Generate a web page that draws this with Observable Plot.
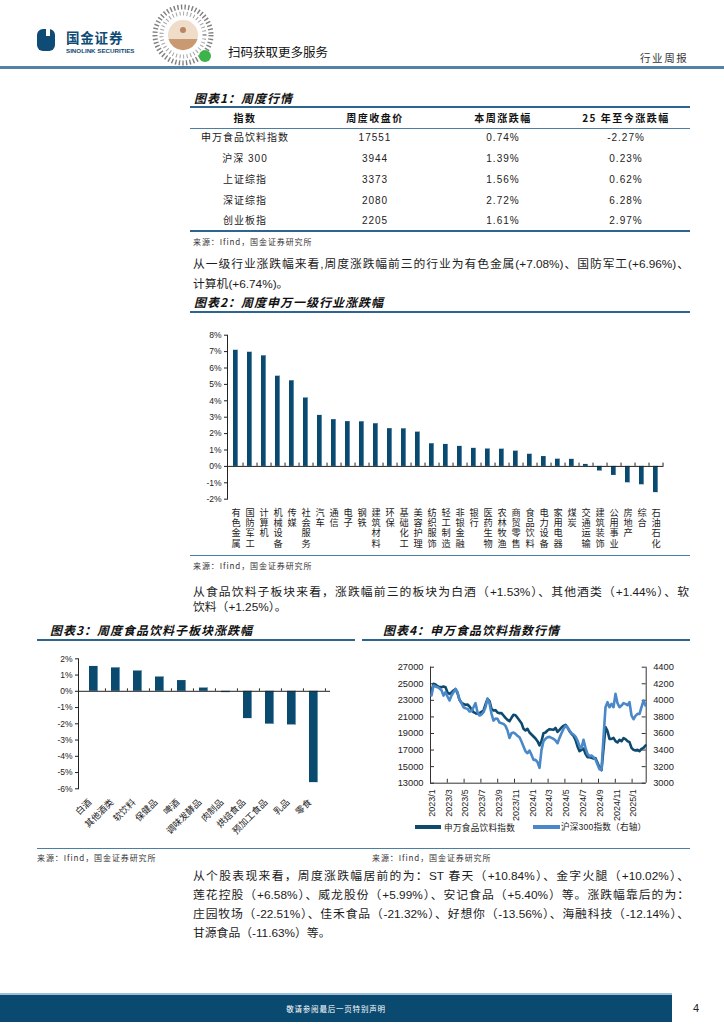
<!DOCTYPE html>
<html lang="zh-CN">
<head>
<meta charset="utf-8">
<title>行业周报</title>
<script src="https://cdn.jsdelivr.net/npm/d3@7"></script>
<script src="https://cdn.jsdelivr.net/npm/@observablehq/plot@0.6"></script>
<style>
  html, body { margin:0; padding:0; background:#fff; }
  #page { position:relative; width:724px; height:1024px; overflow:hidden; background:#fff;
    font-family:"Liberation Sans","Noto Sans CJK SC",sans-serif; color:#1b1b1b; }
  .a { position:absolute; }
  .t { white-space:nowrap; }
  .title { font-family:"Noto Sans CJK SC",sans-serif; font-weight:700; font-style:italic; font-size:12px; letter-spacing:1px; color:#111; line-height:16px; height:16px; white-space:nowrap; }
  .rule2 { position:absolute; height:2px; background:#2c6690; }
  .rule1 { position:absolute; height:1px; background:#4a7ea5; }
  .src { font-family:"Noto Sans CJK SC",sans-serif; font-size:8px; letter-spacing:0.9px; color:#333; line-height:12px; height:12px; white-space:nowrap; }
  .p { font-family:"Liberation Sans","Noto Sans CJK SC",sans-serif; font-size:11.8px; line-height:16px; height:16px; color:#1b1b1b; text-align:justify; text-align-last:justify; width:496px; }
  .p.last { text-align-last:left; }
  .th { font-family:"Noto Sans CJK SC",sans-serif; font-weight:700; font-size:10px; letter-spacing:1.5px; text-align:center; width:140px; line-height:14px; height:14px; white-space:nowrap; color:#111; }
  .td { font-family:"Liberation Sans","Noto Sans CJK SC",sans-serif; font-size:10px; letter-spacing:1px; text-align:center; width:140px; line-height:14px; height:14px; white-space:nowrap; color:#222; }
</style>
</head>
<body>
<div id="page"></div>
<script>
// ---------------- DATA ----------------
// 图表1: 周度行情
const tableHeaders = ["指数", "周度收盘价", "本周涨跌幅", "25 年至今涨跌幅"];
const tableIndex = ["申万食品饮料指数", "沪深 300", "上证综指", "深证综指", "创业板指"];
const tableClose = ["17551", "3944", "3373", "2080", "2205"];
const tableWeek = ["0.74%", "1.39%", "1.56%", "2.72%", "1.61%"];
const tableYtd = ["-2.27%", "0.23%", "0.62%", "6.28%", "2.97%"];

// 图表2: 周度申万一级行业涨跌幅 (%)
const industries = ["有色金属","国防军工","计算机","机械设备","传媒","社会服务","汽车","通信","电子","钢铁","建筑材料","环保","基础化工","美容护理","纺织服饰","轻工制造","非银金融","银行","医药生物","农林牧渔","商贸零售","食品饮料","电力设备","家用电器","煤炭","交通运输","建筑装饰","公用事业","房地产","综合","石油石化"];
const industryChg = [7.08,6.96,6.74,5.50,5.22,4.17,3.11,2.85,2.73,2.72,2.60,2.30,2.29,2.09,1.38,1.34,1.22,1.10,1.06,1.05,0.93,0.74,0.60,0.44,0.43,0.12,-0.28,-0.55,-1.00,-1.12,-1.60];
const ticks2 = [-2,-1,0,1,2,3,4,5,6,7,8];

// 图表3: 周度食品饮料子板块涨跌幅 (%)
const subSectors = ["白酒","其他酒类","软饮料","保健品","啤酒","调味发酵品","肉制品","烘焙食品","预加工食品","乳品","零食"];
const subChg = [1.53,1.44,1.25,0.88,0.66,0.20,-0.08,-1.68,-2.02,-2.07,-5.62];
const ticks3 = [-6,-5,-4,-3,-2,-1,0,1,2];

// 图表4: 申万食品饮料指数行情 (sampled along the time axis)
const foodIdx = [24100,24993,24912,24711,24591,24591,24671,24591,23947,23786,
  23947,24188,24349,23866,23062,22700,22579,22458,22499,22257,
  21935,21573,21453,21372,21453,21613,21775,22499,23183,22901,
  21976,21775,21815,21533,21453,21453,21171,20889,20648,20487,
  20889,21251,21211,20889,20568,20246,19562,19361,19562,19119,
  18878,18637,18395,18073,17550,18073,19039,19119,19361,19522,
  19481,19441,19683,19200,19441,19723,19924,20045,19723,19281,
  18958,18717,18234,17430,16866,17027,17188,16545,16142,16142,
  16062,15982,16022,15459,14855,14573,17148,19763,19281,18355,
  18355,18476,18073,17912,18234,18073,18435,18315,18073,17953,
  17269,17027,16947,17027,16866,17148,17269,17550];
const hs300 = [4060,4179,4167,4159,4143,4122,4058,4098,4046,3998,
  4058,4098,4139,4098,4006,3966,3917,3905,3897,3865,
  3869,3917,3966,3857,3817,3829,3857,3917,4018,3966,
  3837,3756,3780,3776,3732,3724,3716,3692,3636,3547,
  3603,3612,3595,3571,3555,3503,3443,3386,3362,3394,
  3342,3282,3282,3254,3185,3402,3507,3535,3555,3559,
  3547,3535,3515,3483,3547,3603,3656,3692,3672,3636,
  3603,3587,3563,3515,3447,3426,3523,3426,3354,3326,
  3334,3314,3286,3225,3169,3161,3555,3917,3978,3917,
  3957,3917,4078,3966,3917,3937,3966,3957,3941,3978,
  3817,3772,3813,3837,3837,3917,3998,3937];
const xTickLabels = ["2023/1","2023/3","2023/5","2023/7","2023/9","2023/11","2024/1","2024/3","2024/5","2024/7","2024/9","2024/11","2025/1"];
const leftTicks = [13000,15000,17000,19000,21000,23000,25000,27000];
const rightTicks = [3000,3200,3400,3600,3800,4000,4200,4400];
const seriesNames = ["申万食品饮料指数", "沪深300指数（右轴）"];

// ---------------- STYLE ----------------
const FONT = '"Liberation Sans","Noto Sans CJK SC",sans-serif';
const CJK = '"Noto Sans CJK SC",sans-serif';
const BAR = "#0b4a6f";
const BAR_HI = "#8db3d2";
const DARK = "#0d4a6e";
const LIGHT = "#4a88c8";
const SVGNS = "http://www.w3.org/2000/svg";

const page = document.getElementById("page");
function place(html, cls, left, top, extra) {
  const d = document.createElement("div");
  d.className = "a " + (cls || "");
  d.style.left = left + "px";
  d.style.top = top + "px";
  if (extra) Object.assign(d.style, extra);
  d.innerHTML = html;
  page.appendChild(d);
  return d;
}
function rule(cls, left, top, width) {
  return place("", cls, left, top, {width: width + "px"});
}
function mount(node, left, top) {
  const w = document.createElement("div");
  w.className = "a";
  w.style.left = left + "px";
  w.style.top = top + "px";
  w.appendChild(node);
  page.appendChild(w);
}

// ---------------- HEADER ----------------
place(`<svg width="20" height="24"><path d="M6,1 h6 a6,6 0 0 1 6,6 v10 a6,6 0 0 1 -6,6 h-6 a6,6 0 0 1 -6,-6 v-10 a6,6 0 0 1 6,-6z" fill="#0f4c75"/><rect x="9" y="1" width="4" height="7" fill="#fff"/></svg>`, "", 37, 28);
place("国金证券", "t", 66, 30, {fontFamily: CJK, fontWeight: 700, fontSize: "13.5px", lineHeight: "14px", height: "14px", color: "#0f4c75", letterSpacing: "0.8px"});
place("SINOLINK SECURITIES", "t", 66, 47, {fontFamily: FONT, fontWeight: 700, fontSize: "6.2px", lineHeight: "7px", height: "7px", color: "#0f4c75"});
place(`<svg width="66" height="64">
  <circle cx="33" cy="32" r="28" fill="none" stroke="#555" stroke-width="5" stroke-dasharray="1.4 2.2" opacity="0.75"/>
  <circle cx="33" cy="32" r="21.5" fill="none" stroke="#666" stroke-width="4" stroke-dasharray="1 2.6" opacity="0.6"/>
  <circle cx="33" cy="32" r="15" fill="#efdcc9"/>
  <path d="M18.5,36 A15,15 0 0 0 47.5,36 Z" fill="#c99a72"/>
  <circle cx="33" cy="27" r="3" fill="#b88660"/>
  <circle cx="55" cy="53" r="6" fill="#3cb44a"/>
</svg>`, "", 150, 3);
place("扫码获取更多服务", "t", 228, 44, {fontFamily: CJK, fontSize: "12.5px", lineHeight: "16px", color: "#111"});
place("行业周报", "t", 640, 51, {fontFamily: CJK, fontSize: "10.5px", lineHeight: "14px", color: "#333", letterSpacing: "1.6px"});
place("", "", 0, 66, {width: "724px", height: "2.5px", background: "#5282a6"});

// ---------------- TABLE (图表1) ----------------
place("图表1：周度行情", "title", 194, 90);
rule("rule2", 190, 106, 500);
const colCenters = [245, 375, 503, 626];
tableHeaders.forEach((h, j) => place(h, "th", colCenters[j] - 70, 111));
rule("rule1", 190, 128, 500);
const rowCenters = [138, 159, 180, 201, 221];
tableIndex.forEach((name, i) => {
  const cells = [name, tableClose[i], tableWeek[i], tableYtd[i]];
  cells.forEach((c, j) => place(c, "td", colCenters[j] - 70, rowCenters[i] - 7));
});
place("", "", 190, 230, {width: "500px", height: "1.5px", background: "#2c6690"});
place("来源：Ifind，国金证券研究所", "src", 193, 236);

place("从一级行业涨跌幅来看,周度涨跌幅前三的行业为有色金属(+7.08%)、国防军工(+6.96%)、", "p", 193, 256);
place("计算机(+6.74%)。", "p last", 193, 276);

// ---------------- CHART 2 ----------------
place("图表2：周度申万一级行业涨跌幅", "title", 194, 294);
rule("rule2", 190, 311, 500);
const ind = industries.map((name, i) => ({name, value: industryChg[i]}));
const c2 = Plot.plot({
  width: 490, height: 235,
  marginLeft: 37, marginRight: 16.5, marginTop: 14.7, marginBottom: 56.3,
  style: {fontFamily: FONT, fontSize: "8.5px", color: "#222", background: "transparent", overflow: "visible"},
  x: {domain: industries, paddingInner: 0.62, paddingOuter: 0.31, axis: null, label: null},
  y: {domain: [-2, 8], label: null},
  marks: [
    Plot.barY(ind, {x: "name", y: "value", fill: BAR}),
    Plot.barY(ind, {x: "name", y: "value", fill: BAR_HI, insetLeft: 4.4}),
    Plot.ruleY([0], {stroke: "#222", strokeWidth: 1}),
    Plot.ruleX(industries, {x: d => d, y1: 0, y2: 0.2, dx: 7.04, stroke: "#222"}),
    Plot.frame({anchor: "left", stroke: "#222"}),
    Plot.axisY({ticks: ticks2, tickFormat: d => d + "%", tickSize: 3, tickPadding: 3, label: null}),
    Plot.text(ind, {x: "name", y: -2, text: "name", textAnchor: "start", dy: 6,
      fontSize: 9.2, fontFamily: CJK, fill: "#222"})
  ]
});
const labelTexts = [...c2.querySelectorAll("text")].filter(t => industries.includes(t.textContent));
labelTexts.forEach(t => {
  t.setAttribute("writing-mode", "tb");
  t.style.writingMode = "vertical-rl";
  t.style.letterSpacing = "0.9px";
  t.removeAttribute("dy");
  t.setAttribute("text-anchor", "start");
});
mount(c2, 190, 320);
// fallback: stack the characters if vertical writing is not honoured
if (labelTexts.length) {
  const bb = labelTexts[0].getBBox();
  if (bb.width > bb.height) {
    labelTexts.forEach(t => {
      t.removeAttribute("writing-mode");
      t.style.writingMode = "";
      t.style.letterSpacing = "";
      t.setAttribute("text-anchor", "middle");
      const s = t.textContent;
      const x = t.getAttribute("x") || 0;
      t.textContent = "";
      [...s].forEach((ch, k) => {
        const ts = document.createElementNS(SVGNS, "tspan");
        ts.setAttribute("x", x);
        ts.setAttribute("dy", k === 0 ? "0.85em" : "1.1em");
        ts.textContent = ch;
        t.appendChild(ts);
      });
    });
  }
}
rule("rule1", 190, 555, 500);
place("来源：Ifind，国金证券研究所", "src", 193, 560);

place("从食品饮料子板块来看，涨跌幅前三的板块为白酒（+1.53%）、其他酒类（+1.44%）、软", "p", 193, 584);
place("饮料（+1.25%）。", "p last", 193, 599);

// ---------------- CHART 3 ----------------
place("图表3：周度食品饮料子板块涨跌幅", "title", 50, 622);
rule("rule2", 37, 639, 318);
const sub = subSectors.map((name, i) => ({name, value: subChg[i]}));
const c3 = Plot.plot({
  width: 318, height: 185,
  marginLeft: 41, marginRight: 25, marginTop: 13.3, marginBottom: 41.7,
  style: {fontFamily: FONT, fontSize: "8.5px", color: "#222", background: "transparent", overflow: "visible"},
  x: {domain: subSectors, paddingInner: 0.59, paddingOuter: 0.295, axis: null, label: null},
  y: {domain: [-6, 2], label: null},
  marks: [
    Plot.barY(sub, {x: "name", y: "value", fill: BAR}),
    Plot.barY(sub, {x: "name", y: "value", fill: BAR_HI, insetLeft: 8.3}),
    Plot.ruleY([0], {stroke: "#222", strokeWidth: 1}),
    Plot.ruleX(subSectors, {x: d => d, y1: 0, y2: 0.15, dx: 11.45, stroke: "#222"}),
    Plot.frame({anchor: "left", stroke: "#222"}),
    Plot.axisY({ticks: ticks3, tickFormat: d => d + "%", tickSize: 3, tickPadding: 3, label: null}),
    Plot.text(sub, {x: "name", y: -6, text: "name", rotate: -45, textAnchor: "end", dx: -4, dy: 12,
      fontSize: 9, fontFamily: CJK, fill: "#222"})
  ]
});
mount(c3, 37, 645);

// ---------------- CHART 4 ----------------
place("图表4：申万食品饮料指数行情", "title", 383, 622);
rule("rule2", 362, 639, 328);
const toLeft = v => leftTicks[0] + (v - rightTicks[0]) * (leftTicks[1] - leftTicks[0]) / (rightTicks[1] - rightTicks[0]);
const N = foodIdx.length;
const xMin = -0.5, xMax = N - 0.65;
const tickStep = 8.4;
const xTicks = xTickLabels.map((label, k) => ({pos: xMin + k * tickStep, label}));
const c4 = Plot.plot({
  width: 328, height: 170,
  marginLeft: 68, marginRight: 44.3, marginTop: 21.7, marginBottom: 32.3,
  style: {fontFamily: FONT, fontSize: "9.3px", color: "#222", background: "transparent", overflow: "visible"},
  x: {domain: [xMin, xMax], axis: null, label: null},
  y: {domain: [leftTicks[0], leftTicks[leftTicks.length - 1]], label: null},
  marks: [
    Plot.ruleY([leftTicks[0]], {stroke: "#333"}),
    Plot.ruleX([xMin, xMax], {stroke: "#333"}),
    Plot.ruleY(leftTicks, {x1: xMin, x2: xMin + 2, stroke: "#333"}),
    Plot.ruleY(leftTicks, {x1: xMax - 2, x2: xMax, stroke: "#333"}),
    Plot.ruleX(xTicks, {x: "pos", y1: leftTicks[0], y2: leftTicks[0] + 480, stroke: "#333"}),
    Plot.lineY(foodIdx, {x: (d, i) => i, y: d => d, stroke: DARK, strokeWidth: 2.6}),
    Plot.lineY(hs300, {x: (d, i) => i, y: d => toLeft(d), stroke: LIGHT, strokeWidth: 2.6}),
    Plot.axisY({ticks: leftTicks, tickFormat: d => String(d), tickSize: 0, tickPadding: 7, label: null}),
    Plot.axisY({anchor: "right", ticks: leftTicks, tickFormat: (d) => String(rightTicks[leftTicks.indexOf(d)]), tickSize: 0, tickPadding: 7, label: null}),
    Plot.text(xTicks, {x: "pos", y: leftTicks[0], text: "label", rotate: -90, textAnchor: "end", dx: 1.5, dy: 6, fontSize: 9})
  ]
});
mount(c4, 362, 645);
// legend
place("", "", 415, 825, {width: "26px", height: "4px", background: DARK});
place(seriesNames[0], "t", 444, 821, {fontFamily: CJK, fontSize: "8.6px", lineHeight: "12px", color: "#222", letterSpacing: "0.3px"});
place("", "", 533, 825, {width: "27px", height: "4px", background: LIGHT});
place(seriesNames[1], "t", 561, 821, {fontFamily: FONT, fontSize: "8.6px", lineHeight: "12px", color: "#222", letterSpacing: "0.2px"});

rule("rule1", 37, 848, 653);
place("来源：Ifind，国金证券研究所", "src", 37, 852);
place("来源：Ifind，国金证券研究所", "src", 372, 852);

place("从个股表现来看，周度涨跌幅居前的为：ST 春天（+10.84%）、金字火腿（+10.02%）、", "p", 193, 868);
place("莲花控股（+6.58%）、威龙股份（+5.99%）、安记食品（+5.40%）等。涨跌幅靠后的为：", "p", 193, 887);
place("庄园牧场（-22.51%）、佳禾食品（-21.32%）、好想你（-13.56%）、海融科技（-12.14%）、", "p", 193, 906);
place("甘源食品（-11.63%）等。", "p last", 193, 925);

// ---------------- FOOTER ----------------
place("", "", 0, 993, {width: "672px", height: "2px", background: "#9dbfd8"});
place("", "", 0, 995, {width: "672px", height: "27px", background: "#0a4a70"});
place("敬请参阅最后一页特别声明", "t", 0, 1002, {width: "672px", textAlign: "center", fontFamily: CJK, fontSize: "7.5px", lineHeight: "14px", color: "#fff", letterSpacing: "0.8px"});
place("4", "t", 693, 1001, {fontFamily: FONT, fontSize: "11px", lineHeight: "14px", color: "#222"});
</script>
</body>
</html>
